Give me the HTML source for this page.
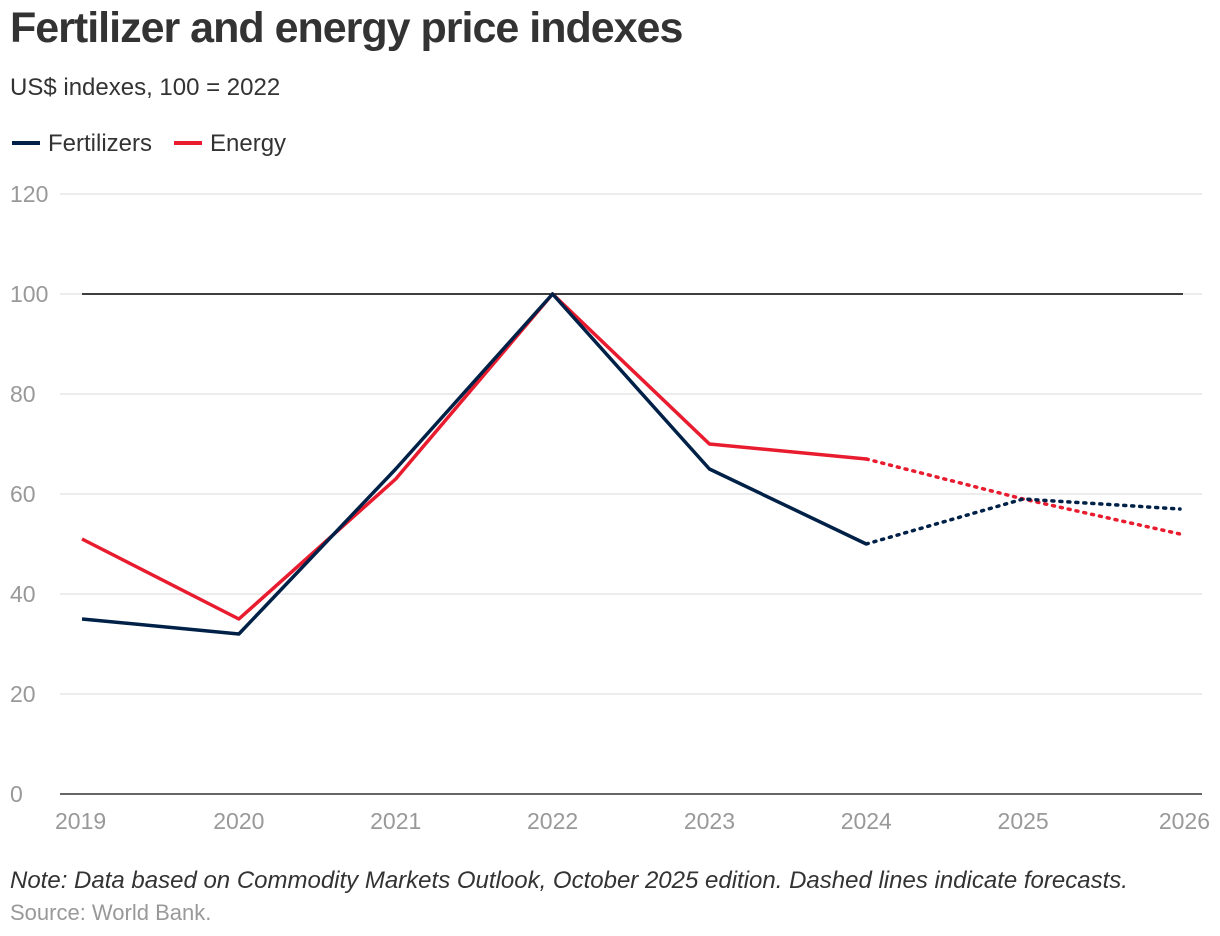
<!DOCTYPE html>
<html><head><meta charset="utf-8"><style>
body{margin:0;width:1220px;height:936px;background:#fff;font-family:"Liberation Sans",Arial,sans-serif;overflow:hidden}
#title{position:absolute;left:10px;top:4px;font-size:43px;font-weight:bold;color:#333;letter-spacing:-1px}
#sub{position:absolute;left:10px;top:74px;font-size:24px;color:#333}
#note{position:absolute;left:10px;top:867px;font-size:24px;font-style:italic;color:#333}
#src{position:absolute;left:10px;top:900px;font-size:22px;color:#999}
svg{position:absolute;left:0;top:0}
</style></head><body>
<div id="title">Fertilizer and energy price indexes</div>
<div id="sub">US$ indexes, 100 = 2022</div>
<div id="note">Note: Data based on Commodity Markets Outlook, October 2025 edition. Dashed lines indicate forecasts.</div>
<div id="src">Source: World Bank.</div>
<svg id="chart" width="1220" height="936"></svg>
<script>
const years=[2019,2020,2021,2022,2023,2024,2025,2026];
const fertilizers=[35,32,65,100,65,50,59,57];
const energy=[51,35,63,100,70,67,59,52];
const yTicks=[0,20,40,60,80,100,120];
const forecastStart=5;
const svg=document.getElementById('chart');
const NS='http://www.w3.org/2000/svg';
const x=i=>82+i*(1180-82)/(years.length-1);
const y=v=>794-v*5;
function mk(t,a){const e=document.createElementNS(NS,t);for(const k in a)e.setAttribute(k,a[k]);svg.appendChild(e);return e;}
yTicks.forEach(t=>{
 const g=mk('line',{x1:60,x2:1202,y1:y(t),y2:y(t),stroke:t===0?'#333':'#e0e0e0','stroke-width':t===0?1.5:1.2});
 
 
 const l=mk('text',{x:10,y:y(t)+8,'font-size':23,fill:'#999'});l.textContent=t;
 
 
});
const ref=mk('line',{x1:82,x2:1183,y1:y(100),y2:y(100),stroke:'#000','stroke-width':1.5});


years.forEach((yr,i)=>{
 const anchor=i===0?'start':(i===years.length-1?'end':'middle');
 const xx=i===0?55:(i===years.length-1?1210:x(i));
 const l=mk('text',{x:xx,y:829,'font-size':23,fill:'#999','text-anchor':anchor});l.textContent=yr;
 
 
});
function series(vals,color,name){
 const pts=(a,b)=>vals.slice(a,b).map((v,j)=>x(a+j)+','+y(v)).join(' ');
 const s=mk('polyline',{points:pts(0,forecastStart+1),fill:'none',stroke:color,'stroke-width':3.5,'stroke-linejoin':'round'});
 
 
 const f=mk('polyline',{points:pts(forecastStart,vals.length),fill:'none',stroke:color,'stroke-width':3.5,'stroke-dasharray':'2 6','stroke-linecap':'round'});
 
 
}
series(energy,'#e81c2e','energy');
series(fertilizers,'#002147','fertilizers');
[['Fertilizers','#002147',12],['Energy','#e81c2e',174]].forEach(([n,c,lx])=>{
 const s=mk('line',{x1:lx,x2:lx+28,y1:143,y2:143,stroke:c,'stroke-width':4});
 
 
 const t=mk('text',{x:lx+36,y:151,'font-size':24,fill:'#333'});t.textContent=n;
 
 
});
</script>
</body></html>
